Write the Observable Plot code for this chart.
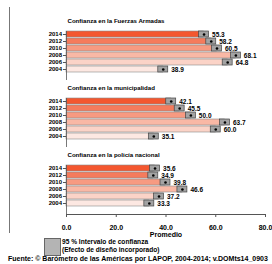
<!DOCTYPE html>
<html><head><meta charset="utf-8">
<script src="https://cdn.jsdelivr.net/npm/d3@7"></script>
<script src="https://cdn.jsdelivr.net/npm/@observablehq/plot@0.6"></script>
<style>
body{margin:0;background:#fff;font-family:"Liberation Sans",Arial,sans-serif;}
#wrap{position:relative;width:272px;height:264px;overflow:hidden}
#chart{position:absolute;left:0;top:0}
#vline{position:absolute;left:9px;top:7px;width:0;height:226px;border-left:1px solid #777}
#lbox{position:absolute;left:44px;top:238px;width:15px;height:16px;background:#b4b4b4;border:1px solid #666}
#ltext{position:absolute;left:62px;top:238px;font-size:6.6px;font-weight:bold;line-height:8px;white-space:nowrap;color:#000}
#src{position:absolute;left:8px;top:255px;font-size:7px;font-weight:bold;white-space:nowrap;color:#000}
</style></head><body><div id="wrap"><div id="vline"></div><div id="chart"></div>
<div id="lbox"></div><div id="ltext">95 % Intervalo de confianza<br>(Efecto de diseño incorporado)</div>
<div id="src">Fuente: © Barómetro de las Américas por LAPOP, 2004-2014; v.DOMts14_0903</div></div>
<script>
const years = ["2014","2012","2010","2008","2006","2004"];
const panels = ["Confianza en la Fuerzas Armadas","Confianza en la municipalidad","Confianza en la policía nacional"];
const fuerzas = [55.3,58.2,60.5,68.1,64.8,38.9];
const municipalidad = [42.1,45.5,50.0,63.7,60.0,35.1];
const policia = [35.6,34.9,39.8,46.6,37.2,33.3];
const ciFuerzas = [2.0,2.0,2.0,2.0,2.0,2.0];
const ciMunicipalidad = [2.0,2.0,2.0,2.0,2.0,2.0];
const ciPolicia = [2.0,2.0,2.0,2.0,2.0,2.0];
const colors = ["#f4572f","#f57b5c","#f79a81","#f9b8a5","#fbd3c7","#fde8e2"];
const xTicks = [0,20,40,60,80];

const series = [fuerzas, municipalidad, policia];
const cis = [ciFuerzas, ciMunicipalidad, ciPolicia];
const rows = [];
panels.forEach((p,i)=>years.forEach((y,j)=>rows.push({panel:p, year:y, value:series[i][j], lo:series[i][j]-cis[i][j], hi:series[i][j]+cis[i][j], color:colors[j]})));

const chart = Plot.plot({
  width:272, height:238,
  marginLeft:66, marginRight:7, marginTop:30, marginBottom:24,
  style:{fontFamily:"Liberation Sans, Arial, sans-serif", color:"#000", background:"transparent"},
  x:{domain:[0,80]},
  y:{domain:years, paddingInner:0.14, paddingOuter:0.23, align:0},
  fy:{domain:panels, paddingInner:0.272, paddingOuter:0, axis:null},
  marks:[
    Plot.barX(rows,{x:"value", y:"year", fy:"panel", fill:"color", stroke:"#8a8a8a", strokeWidth:0.6}),
    Plot.barX(rows,{x1:"lo", x2:"hi", y:"year", fy:"panel", fill:"#a3a3a3", stroke:"#444", strokeWidth:0.7}),
    Plot.dot(rows,{x:"value", y:"year", fy:"panel", r:1.3, fill:"#000"}),
    Plot.text(rows,{x:"hi", y:"year", fy:"panel", text:d=>d.value.toFixed(1), dx:3, textAnchor:"start", fontSize:6.5, fontWeight:"bold", fill:"#000"}),
    Plot.text(panels,{fy:d=>d, text:d=>d, frameAnchor:"top-left", textAnchor:"start", lineAnchor:"middle", dy:-10, dx:1, fontSize:6.1, fontWeight:"bold", fill:"#000"}),
    Plot.ruleX([0],{stroke:"#555", strokeWidth:0.8}),
    Plot.axisY({tickSize:3, tickPadding:1.5, fontSize:6, fontWeight:"bold", label:null, stroke:"#555"}),
    Plot.frame({anchor:"bottom", facetAnchor:"bottom", stroke:"#555"}),
    Plot.axisX({ticks:xTicks, tickFormat:d=>d.toFixed(1), tickSize:3, tickPadding:8, fontSize:7, fontWeight:"bold", label:"Promedio", labelAnchor:"center", labelArrow:"none", labelOffset:22, stroke:"#555"})
  ]
});
document.getElementById("chart").appendChild(chart);
</script></body></html>
